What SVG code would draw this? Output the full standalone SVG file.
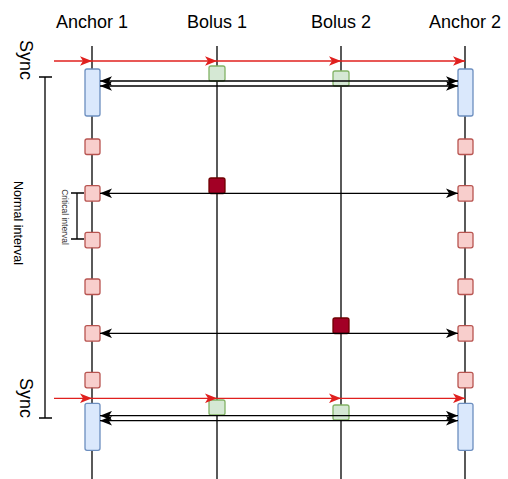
<svg xmlns="http://www.w3.org/2000/svg" width="508" height="479" viewBox="0 0 508 479">
<style>
.t{font-family:"Liberation Sans",Arial,Helvetica,sans-serif;fill:#000}
.life{stroke:#000;stroke-width:1.3;fill:none}
.anchor{fill:#dae8fc;stroke:#6c8ebf;stroke-width:1.3}
.slot{fill:#f8cecc;stroke:#b85450;stroke-width:1.3}
.bolus{fill:#d5e8d4;stroke:#82b366;stroke-width:1.3}
.hit{fill:#a20025;stroke:#6f0000;stroke-width:1.3}
.sync{stroke:#e0201e;stroke-width:1.3;fill:none;marker-end:url(#ar)}
.msg{stroke:#000;stroke-width:1.3;fill:none;marker-start:url(#ab);marker-end:url(#ab)}
.br{stroke:#000;stroke-width:1.3;fill:none}
</style>
<defs>
<marker id="ar" viewBox="0 0 10 8" refX="10" refY="4" markerWidth="12" markerHeight="10" markerUnits="userSpaceOnUse" orient="auto-start-reverse">
<path d="M0,0 L10,4 L0,8 L2.5,4 Z" fill="#e0201e"/>
</marker>
<marker id="ab" viewBox="0 0 10 8" refX="10" refY="4" markerWidth="12" markerHeight="10" markerUnits="userSpaceOnUse" orient="auto-start-reverse">
<path d="M0,0 L10,4 L0,8 L2.5,4 Z" fill="#000"/>
</marker>
</defs>
<g id="labels">
<text class="t" x="92" y="28" font-size="18" text-anchor="middle">Anchor 1</text>
<text class="t" x="217" y="28" font-size="18" text-anchor="middle">Bolus 1</text>
<text class="t" x="341" y="28" font-size="18" text-anchor="middle">Bolus 2</text>
<text class="t" x="465" y="28" font-size="18" text-anchor="middle">Anchor 2</text>
<text class="t" font-size="18" text-anchor="middle" transform="translate(20,60) rotate(90)">Sync</text>
<text class="t" font-size="18" text-anchor="middle" transform="translate(20,398) rotate(90)">Sync</text>
<text class="t" font-size="12.5" text-anchor="middle" transform="translate(14,223) rotate(90)">Normal interval</text>
<text class="t" font-size="8.5" text-anchor="middle" style="fill:#333" transform="translate(61.5,217) rotate(90)">Critical interval</text>
</g>
<g id="lifelines">
<line class="life" x1="92" y1="46" x2="92" y2="479"/>
<line class="life" x1="217" y1="46" x2="217" y2="479"/>
<line class="life" x1="341" y1="46" x2="341" y2="479"/>
<line class="life" x1="465" y1="46" x2="465" y2="479"/>
</g>
<g id="brackets">
<path class="br" d="M45,77 V418 M39,77 H52 M39,418 H52"/>
<path class="br" d="M77,193 V239 M71,193 H84 M71,239 H84"/>
</g>
<g id="anchor1">
<rect class="anchor" x="85" y="69" width="15" height="47" rx="2"/>
<rect class="slot" x="85" y="139" width="15" height="15.5" rx="2"/>
<rect class="slot" x="85" y="185.7" width="15" height="15.5" rx="2"/>
<rect class="slot" x="85" y="232.3" width="15" height="15.5" rx="2"/>
<rect class="slot" x="85" y="279" width="15" height="15.5" rx="2"/>
<rect class="slot" x="85" y="325.7" width="15" height="15.5" rx="2"/>
<rect class="slot" x="85" y="372.3" width="15" height="15.5" rx="2"/>
<rect class="anchor" x="85" y="403.3" width="15" height="47" rx="2"/>
</g>
<g id="anchor2">
<rect class="anchor" x="458" y="69" width="15" height="47" rx="2"/>
<rect class="slot" x="458" y="139" width="15" height="15.5" rx="2"/>
<rect class="slot" x="458" y="185.7" width="15" height="15.5" rx="2"/>
<rect class="slot" x="458" y="232.3" width="15" height="15.5" rx="2"/>
<rect class="slot" x="458" y="279" width="15" height="15.5" rx="2"/>
<rect class="slot" x="458" y="325.7" width="15" height="15.5" rx="2"/>
<rect class="slot" x="458" y="372.3" width="15" height="15.5" rx="2"/>
<rect class="anchor" x="458" y="403.3" width="15" height="47" rx="2"/>
</g>
<g id="bolus1">
<rect class="bolus" x="209" y="66" width="16" height="15" rx="2"/>
<rect class="hit" x="209" y="178" width="16" height="15.5" rx="2"/>
<rect class="bolus" x="209" y="400" width="16" height="15" rx="2"/>
</g>
<g id="bolus2">
<rect class="bolus" x="333" y="71" width="16" height="15" rx="2"/>
<rect class="hit" x="333" y="318" width="16" height="15.5" rx="2"/>
<rect class="bolus" x="333" y="405" width="16" height="15" rx="2"/>
</g>
<g id="connectors">
<line class="sync" x1="54" y1="61" x2="92" y2="61"/>
<line class="sync" x1="92" y1="61" x2="217" y2="61"/>
<line class="sync" x1="217" y1="61" x2="341" y2="61"/>
<line class="sync" x1="341" y1="61" x2="465" y2="61"/>
<line class="sync" x1="54" y1="398.3" x2="92" y2="398.3"/>
<line class="sync" x1="92" y1="398.3" x2="217" y2="398.3"/>
<line class="sync" x1="217" y1="398.3" x2="341" y2="398.3"/>
<line class="sync" x1="341" y1="398.3" x2="465" y2="398.3"/>
<line class="msg" x1="100" y1="81" x2="458" y2="81"/>
<line class="msg" x1="100" y1="86" x2="458" y2="86"/>
<line class="msg" x1="100" y1="193.3" x2="458" y2="193.3"/>
<line class="msg" x1="100" y1="333.3" x2="458" y2="333.3"/>
<line class="msg" x1="100" y1="415.7" x2="458" y2="415.7"/>
<line class="msg" x1="100" y1="420.7" x2="458" y2="420.7"/>
</g>
</svg>
